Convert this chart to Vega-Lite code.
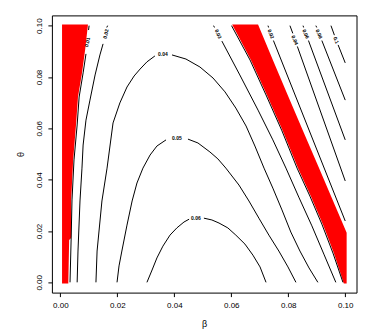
{
"$schema": "https://vega.github.io/schema/vega-lite/v6.json",
"width": 304.6,
"height": 277.2,
"autosize": {"type": "none"},
"padding": {"left": 51.9, "top": 15.4, "right": 15.5, "bottom": 43.4},
"background": "white",
"config": {
 "view": {"stroke": "black", "strokeWidth": 1},
 "axis": {"labelFont": "Liberation Sans", "labelFontSize": 8, "labelColor": "black", "tickColor": "black", "tickSize": 4, "domain": false, "grid": false, "titleFont": "Liberation Sans", "titleFontSize": 9, "titleFontWeight": "normal", "titleColor": "black", "labelFlush": false, "labelOverlap": false}
},
"datasets": {
 "bands": [
  {"g": "L", "t": -0.0005, "b": 0.0006, "b2": 0.0028},
  {"g": "L", "t": 0.0, "b": 0.0006, "b2": 0.0028},
  {"g": "L", "t": 0.0165, "b": 0.0006, "b2": 0.0031},
  {"g": "L", "t": 0.0173, "b": 0.0006, "b2": 0.0038},
  {"g": "L", "t": 0.0321, "b": 0.0006, "b2": 0.0038},
  {"g": "L", "t": 0.0477, "b": 0.0006, "b2": 0.0045},
  {"g": "L", "t": 0.0613, "b": 0.0006, "b2": 0.0055},
  {"g": "L", "t": 0.0722, "b": 0.0006, "b2": 0.0062},
  {"g": "L", "t": 0.0816, "b": 0.0006, "b2": 0.0076},
  {"g": "L", "t": 0.0905, "b": 0.0006, "b2": 0.0087},
  {"g": "L", "t": 0.1005, "b": 0.0006, "b2": 0.0097},
  {"g": "D", "t": -0.0005, "b": 0.0995, "b2": 0.1005},
  {"g": "D", "t": 0.0114, "b": 0.096, "b2": 0.1005},
  {"g": "D", "t": 0.0193, "b": 0.0933, "b2": 0.1005},
  {"g": "D", "t": 0.0227, "b": 0.0921, "b2": 0.0992},
  {"g": "D", "t": 0.0336, "b": 0.0879, "b2": 0.095},
  {"g": "D", "t": 0.0445, "b": 0.0834, "b2": 0.0908},
  {"g": "D", "t": 0.059, "b": 0.0781, "b2": 0.0852},
  {"g": "D", "t": 0.073, "b": 0.0725, "b2": 0.0798},
  {"g": "D", "t": 0.0866, "b": 0.0669, "b2": 0.0746},
  {"g": "D", "t": 0.1005, "b": 0.0603, "b2": 0.0694}
 ],
 "lines": [
  {"s": "L1a", "o": 1, "b": 0.0101, "t": 0.1},
  {"s": "L1a", "o": 2, "b": 0.0099, "t": 0.0983},
  {"s": "L1b", "o": 3, "b": 0.009, "t": 0.089},
  {"s": "L1b", "o": 4, "b": 0.008, "t": 0.0816},
  {"s": "L1b", "o": 5, "b": 0.0066, "t": 0.0722},
  {"s": "L1b", "o": 6, "b": 0.0059, "t": 0.0613},
  {"s": "L1b", "o": 7, "b": 0.0048, "t": 0.0477},
  {"s": "L1b", "o": 8, "b": 0.0041, "t": 0.0321},
  {"s": "L1b", "o": 9, "b": 0.0038, "t": 0.0173},
  {"s": "L1b", "o": 10, "b": 0.0034, "t": 0.0},
  {"s": "L2a", "o": 11, "b": 0.0166, "t": 0.1},
  {"s": "L2a", "o": 12, "b": 0.0163, "t": 0.0993},
  {"s": "L2b", "o": 13, "b": 0.015, "t": 0.0929},
  {"s": "L2b", "o": 14, "b": 0.0139, "t": 0.0886},
  {"s": "L2b", "o": 15, "b": 0.0122, "t": 0.0808},
  {"s": "L2b", "o": 16, "b": 0.0104, "t": 0.071},
  {"s": "L2b", "o": 17, "b": 0.009, "t": 0.0632},
  {"s": "L2b", "o": 18, "b": 0.008, "t": 0.0535},
  {"s": "L2b", "o": 19, "b": 0.0076, "t": 0.0445},
  {"s": "L2b", "o": 20, "b": 0.0069, "t": 0.0317},
  {"s": "L2b", "o": 21, "b": 0.0062, "t": 0.0122},
  {"s": "L2b", "o": 22, "b": 0.0059, "t": 0.0},
  {"s": "A4a", "o": 23, "b": 0.0125, "t": 0.0},
  {"s": "A4a", "o": 24, "b": 0.0129, "t": 0.0122},
  {"s": "A4a", "o": 25, "b": 0.0146, "t": 0.0317},
  {"s": "A4a", "o": 26, "b": 0.0164, "t": 0.0445},
  {"s": "A4a", "o": 27, "b": 0.0185, "t": 0.0621},
  {"s": "A4a", "o": 28, "b": 0.0209, "t": 0.0699},
  {"s": "A4a", "o": 29, "b": 0.0234, "t": 0.0761},
  {"s": "A4a", "o": 30, "b": 0.0259, "t": 0.0804},
  {"s": "A4a", "o": 31, "b": 0.028, "t": 0.0831},
  {"s": "A4a", "o": 32, "b": 0.0304, "t": 0.0859},
  {"s": "A4a", "o": 33, "b": 0.0332, "t": 0.0882},
  {"s": "A4b", "o": 34, "b": 0.0392, "t": 0.0886},
  {"s": "A4b", "o": 35, "b": 0.0441, "t": 0.087},
  {"s": "A4b", "o": 36, "b": 0.049, "t": 0.0839},
  {"s": "A4b", "o": 37, "b": 0.0536, "t": 0.0796},
  {"s": "A4b", "o": 38, "b": 0.0578, "t": 0.0742},
  {"s": "A4b", "o": 39, "b": 0.0616, "t": 0.0679},
  {"s": "A4b", "o": 40, "b": 0.0652, "t": 0.0609},
  {"s": "A4b", "o": 41, "b": 0.0683, "t": 0.0531},
  {"s": "A4b", "o": 42, "b": 0.0715, "t": 0.0445},
  {"s": "A4b", "o": 43, "b": 0.0746, "t": 0.0367},
  {"s": "A4b", "o": 44, "b": 0.0778, "t": 0.0282},
  {"s": "A4b", "o": 45, "b": 0.0809, "t": 0.0196},
  {"s": "A4b", "o": 46, "b": 0.0841, "t": 0.0122},
  {"s": "A4b", "o": 47, "b": 0.0873, "t": 0.0056},
  {"s": "A4b", "o": 48, "b": 0.0904, "t": 0.0},
  {"s": "A5a", "o": 49, "b": 0.0199, "t": 0.0},
  {"s": "A5a", "o": 50, "b": 0.0206, "t": 0.0064},
  {"s": "A5a", "o": 51, "b": 0.0216, "t": 0.0122},
  {"s": "A5a", "o": 52, "b": 0.0234, "t": 0.0223},
  {"s": "A5a", "o": 53, "b": 0.0252, "t": 0.0317},
  {"s": "A5a", "o": 54, "b": 0.0269, "t": 0.0387},
  {"s": "A5a", "o": 55, "b": 0.029, "t": 0.0445},
  {"s": "A5a", "o": 56, "b": 0.0315, "t": 0.0496},
  {"s": "A5a", "o": 57, "b": 0.0339, "t": 0.0531},
  {"s": "A5a", "o": 58, "b": 0.0371, "t": 0.0555},
  {"s": "A5b", "o": 59, "b": 0.0448, "t": 0.0558},
  {"s": "A5b", "o": 60, "b": 0.0483, "t": 0.0543},
  {"s": "A5b", "o": 61, "b": 0.0525, "t": 0.0508},
  {"s": "A5b", "o": 62, "b": 0.0553, "t": 0.0481},
  {"s": "A5b", "o": 63, "b": 0.0581, "t": 0.0445},
  {"s": "A5b", "o": 64, "b": 0.0627, "t": 0.0379},
  {"s": "A5b", "o": 65, "b": 0.0662, "t": 0.0317},
  {"s": "A5b", "o": 66, "b": 0.0697, "t": 0.025},
  {"s": "A5b", "o": 67, "b": 0.0732, "t": 0.0184},
  {"s": "A5b", "o": 68, "b": 0.0767, "t": 0.0122},
  {"s": "A5b", "o": 69, "b": 0.0799, "t": 0.006},
  {"s": "A5b", "o": 70, "b": 0.0827, "t": 0.0},
  {"s": "A6a", "o": 71, "b": 0.0304, "t": 0.0},
  {"s": "A6a", "o": 72, "b": 0.0322, "t": 0.0048},
  {"s": "A6a", "o": 73, "b": 0.0339, "t": 0.0095},
  {"s": "A6a", "o": 74, "b": 0.036, "t": 0.0141},
  {"s": "A6a", "o": 75, "b": 0.0385, "t": 0.0184},
  {"s": "A6a", "o": 76, "b": 0.0409, "t": 0.0212},
  {"s": "A6a", "o": 77, "b": 0.0434, "t": 0.0235},
  {"s": "A6a", "o": 78, "b": 0.0452, "t": 0.0246},
  {"s": "A6b", "o": 79, "b": 0.0504, "t": 0.025},
  {"s": "A6b", "o": 80, "b": 0.0532, "t": 0.0243},
  {"s": "A6b", "o": 81, "b": 0.0557, "t": 0.0231},
  {"s": "A6b", "o": 82, "b": 0.0588, "t": 0.0212},
  {"s": "A6b", "o": 83, "b": 0.0616, "t": 0.0184},
  {"s": "A6b", "o": 84, "b": 0.0648, "t": 0.0149},
  {"s": "A6b", "o": 85, "b": 0.0676, "t": 0.0106},
  {"s": "A6b", "o": 86, "b": 0.0701, "t": 0.006},
  {"s": "A6b", "o": 87, "b": 0.0722, "t": 0.0},
  {"s": "Ca", "o": 88, "b": 0.0538, "t": 0.1},
  {"s": "Ca", "o": 89, "b": 0.0541, "t": 0.0993},
  {"s": "Cb", "o": 90, "b": 0.0567, "t": 0.094},
  {"s": "Cb", "o": 91, "b": 0.063, "t": 0.0808},
  {"s": "Cb", "o": 92, "b": 0.0694, "t": 0.0671},
  {"s": "Cb", "o": 93, "b": 0.0746, "t": 0.0555},
  {"s": "Cb", "o": 94, "b": 0.0792, "t": 0.0445},
  {"s": "Cb", "o": 95, "b": 0.0837, "t": 0.0332},
  {"s": "Cb", "o": 96, "b": 0.0883, "t": 0.022},
  {"s": "Cb", "o": 97, "b": 0.0925, "t": 0.011},
  {"s": "Cb", "o": 98, "b": 0.0967, "t": 0.0},
  {"s": "D", "o": 99, "b": 0.0601, "t": 0.1},
  {"s": "D", "o": 100, "b": 0.0666, "t": 0.0866},
  {"s": "D", "o": 101, "b": 0.0722, "t": 0.073},
  {"s": "D", "o": 102, "b": 0.0778, "t": 0.059},
  {"s": "D", "o": 103, "b": 0.0831, "t": 0.0445},
  {"s": "D", "o": 104, "b": 0.0876, "t": 0.0336},
  {"s": "D", "o": 105, "b": 0.0918, "t": 0.0227},
  {"s": "D", "o": 106, "b": 0.0957, "t": 0.0114},
  {"s": "D", "o": 107, "b": 0.0992, "t": 0.0},
  {"s": "R1a", "o": 108, "b": 0.0729, "t": 0.1},
  {"s": "R1a", "o": 109, "b": 0.0731, "t": 0.0993},
  {"s": "R1b", "o": 110, "b": 0.0748, "t": 0.0942},
  {"s": "R1b", "o": 111, "b": 0.1, "t": 0.0239},
  {"s": "R2a", "o": 112, "b": 0.0806, "t": 0.1},
  {"s": "R2a", "o": 113, "b": 0.0816, "t": 0.097},
  {"s": "R2b", "o": 114, "b": 0.0832, "t": 0.0919},
  {"s": "R2b", "o": 115, "b": 0.1, "t": 0.0395},
  {"s": "R3a", "o": 116, "b": 0.0852, "t": 0.1},
  {"s": "R3a", "o": 117, "b": 0.0854, "t": 0.0993},
  {"s": "R3b", "o": 118, "b": 0.0871, "t": 0.0942},
  {"s": "R3b", "o": 119, "b": 0.1, "t": 0.0555},
  {"s": "R4a", "o": 120, "b": 0.0897, "t": 0.1},
  {"s": "R4a", "o": 121, "b": 0.09, "t": 0.0993},
  {"s": "R4b", "o": 122, "b": 0.0918, "t": 0.0942},
  {"s": "R4b", "o": 123, "b": 0.1, "t": 0.071},
  {"s": "R5a", "o": 124, "b": 0.095, "t": 0.1},
  {"s": "R5a", "o": 125, "b": 0.0962, "t": 0.0963},
  {"s": "R5b", "o": 126, "b": 0.0975, "t": 0.0925},
  {"s": "R5b", "o": 127, "b": 0.1, "t": 0.0855}
 ],
 "labels": [
  {"d": "l", "lab": "0.01", "b": 0.0094, "t": 0.0936},
  {"d": "l", "lab": "0.02", "b": 0.0159, "t": 0.0968},
  {"d": "h", "lab": "0.04", "b": 0.036, "t": 0.089},
  {"d": "h", "lab": "0.05", "b": 0.0409, "t": 0.0562},
  {"d": "h", "lab": "0.06", "b": 0.0476, "t": 0.025},
  {"d": "r", "lab": "0.03", "b": 0.0555, "t": 0.0968},
  {"d": "r", "lab": "0.02", "b": 0.074, "t": 0.0968},
  {"d": "r", "lab": "0.04", "b": 0.0824, "t": 0.0944},
  {"d": "r", "lab": "0.06", "b": 0.0862, "t": 0.0968},
  {"d": "r", "lab": "0.08", "b": 0.0909, "t": 0.0968},
  {"d": "r", "lab": "0.1", "b": 0.0969, "t": 0.0944}
 ]
},
"encoding": {
 "x": {"field": "b", "type": "quantitative", "scale": {"domain": [-0.00296, 0.10396], "nice": false, "zero": false}, "axis": {"title": "β", "values": [0, 0.02, 0.04, 0.06, 0.08, 0.1], "format": ".2f", "labelPadding": 5, "titleY": 30.4, "titleBaseline": "middle"}},
 "y": {"field": "t", "type": "quantitative", "scale": {"domain": [-0.004, 0.104], "nice": false, "zero": false}, "axis": {"title": "θ", "values": [0, 0.02, 0.04, 0.06, 0.08, 0.1], "format": ".2f", "labelAngle": 270, "labelAlign": "center", "labelBaseline": "bottom", "labelPadding": 4, "titleX": -31, "titleY": 138.6, "titleAngle": 270, "titleAlign": "center", "titleBaseline": "middle"}}
},
"layer": [
 {"data": {"name": "bands"}, "mark": {"type": "area", "orient": "horizontal", "color": "#ff0000"}, "encoding": {"x2": {"field": "b2"}, "detail": {"field": "g"}}},
 {"data": {"name": "lines"}, "mark": {"type": "line", "color": "black", "strokeWidth": 1}, "encoding": {"detail": {"field": "s"}, "order": {"field": "o", "type": "quantitative"}}},
 {"data": {"name": "labels"}, "transform": [{"filter": "datum.d == 'h'"}], "mark": {"type": "text", "font": "Liberation Sans", "fontSize": 5, "fontWeight": "bold", "color": "black", "angle": 0}, "encoding": {"text": {"field": "lab"}}},
 {"data": {"name": "labels"}, "transform": [{"filter": "datum.d == 'r'"}], "mark": {"type": "text", "font": "Liberation Sans", "fontSize": 5, "fontWeight": "bold", "color": "black", "angle": 67}, "encoding": {"text": {"field": "lab"}}},
 {"data": {"name": "labels"}, "transform": [{"filter": "datum.d == 'l'"}], "mark": {"type": "text", "font": "Liberation Sans", "fontSize": 5, "fontWeight": "bold", "color": "black", "angle": 282}, "encoding": {"text": {"field": "lab"}}}
]
}
